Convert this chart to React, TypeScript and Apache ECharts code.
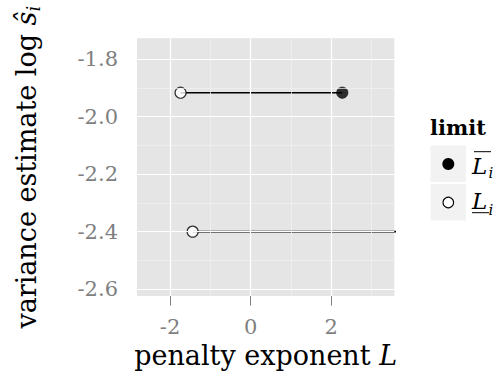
import React, { useEffect, useRef } from "react";
import * as echarts from "echarts";

// Variance estimate against the penalty exponent interval [lower, upper]
const logS = [-1.917, -2.4];
const lowerL = [-1.74, -1.44];
const upperL = [2.276, 6.0]; // second interval is unbounded above; runs off the right edge

// Axis ticks and grid
const xTicks = [-2, 0, 2];
const xMinor = [-1, 1, 3];
const yTicks = [-2.6, -2.4, -2.2, -2.0, -1.8];
const yMinor = [-2.5, -2.3, -2.1, -1.9];
const xRange = [-2.822, 3.568];
const yRange = [-2.624, -1.728];

const legendTitle = "limit";

const SERIF = '"DejaVu Serif", "Liberation Serif", serif';
const GREY = "#7f7f7f";

export default function App() {
  const ref = useRef<HTMLDivElement>(null);

  useEffect(() => {
    if (!ref.current) return;
    const chart = echarts.init(ref.current, undefined, { renderer: "svg" });

    const segments = logS.map((y, i) => ({
      type: "line",
      name: "interval" + i,
      data: [
        [lowerL[i], y],
        [upperL[i], y],
      ],
      symbol: "none",
      clip: true,
      lineStyle: { color: "#000", width: 1.6 },
      z: 3,
      silent: true,
    }));

    const option: any = {
      animation: false,
      backgroundColor: "#ffffff",
      grid: {
        left: 137,
        right: 105.7,
        top: 38.3,
        bottom: 74.7,
        show: true,
        backgroundColor: "#e5e5e5",
        borderWidth: 0,
      },
      xAxis: {
        type: "value",
        min: xRange[0],
        max: xRange[1],
        name: "penalty exponent {it|L}",
        nameLocation: "middle",
        nameGap: 44,
        nameTextStyle: {
          fontFamily: SERIF,
          fontSize: 27,
          color: "#000",
          rich: {
            it: { fontFamily: SERIF, fontSize: 27, fontStyle: "italic", color: "#000" },
          },
        },
        axisLine: { show: false },
        axisTick: {
          show: true,
          length: 9.5,
          customValues: xTicks,
          lineStyle: { color: GREY, width: 1 },
        },
        axisLabel: {
          customValues: xTicks,
          margin: 20,
          fontFamily: SERIF,
          fontSize: 21,
          color: GREY,
          formatter: (v: number) => String(v),
        },
        splitLine: { show: false },
      },
      yAxis: {
        type: "value",
        min: yRange[0],
        max: yRange[1],
        name: "variance estimate log {it|ŝ}{sub|i}",
        nameLocation: "middle",
        nameRotate: 90,
        nameGap: 95,
        nameTextStyle: {
          fontFamily: SERIF,
          fontSize: 27,
          color: "#000",
          rich: {
            it: { fontFamily: SERIF, fontSize: 27, fontStyle: "italic", color: "#000" },
            sub: {
              fontFamily: SERIF,
              fontSize: 18,
              fontStyle: "italic",
              color: "#000",
              padding: [14, 0, 0, 0],
            },
          },
        },
        axisLine: { show: false },
        axisTick: {
          show: true,
          length: 10,
          customValues: yTicks,
          lineStyle: { color: GREY, width: 1 },
        },
        axisLabel: {
          customValues: yTicks,
          margin: 19,
          fontFamily: SERIF,
          fontSize: 21,
          color: GREY,
          formatter: (v: number) => v.toFixed(1),
        },
        splitLine: { show: false },
      },
      series: [
        {
          type: "line",
          name: "minor grid",
          data: [],
          z: 1,
          silent: true,
          markLine: {
            silent: true,
            symbol: "none",
            label: { show: false },
            lineStyle: { color: "#f2f2f2", width: 0.7, type: "solid" },
            data: [
              ...xMinor.map((v) => ({ xAxis: v })),
              ...yMinor.map((v) => ({ yAxis: v })),
            ],
          },
        },
        {
          type: "line",
          name: "major grid",
          data: [],
          z: 1.5,
          silent: true,
          markLine: {
            silent: true,
            symbol: "none",
            label: { show: false },
            lineStyle: { color: "#ffffff", width: 1.2, type: "solid" },
            data: [
              ...xTicks.map((v) => ({ xAxis: v })),
              ...yTicks.map((v) => ({ yAxis: v })),
            ],
          },
        },
        ...segments,
        {
          type: "scatter",
          name: "upper",
          data: upperL.map((x, i) => [x, logS[i]]),
          symbol: "circle",
          symbolSize: 11.5,
          clip: true,
          itemStyle: { color: "#000", borderColor: "#000", borderWidth: 0.5 },
          z: 4,
          silent: true,
        },
        {
          type: "scatter",
          name: "lower",
          data: lowerL.map((x, i) => [x, logS[i]]),
          symbol: "circle",
          symbolSize: 11,
          clip: true,
          itemStyle: { color: "#fff", borderColor: "#000", borderWidth: 1.2 },
          z: 4,
          silent: true,
        },
      ],
      graphic: [
        {
          type: "text",
          x: 430,
          y: 127.5,
          style: {
            text: legendTitle,
            font: `bold 21px ${SERIF}`,
            fill: "#000",
            align: "left",
            verticalAlign: "middle",
          },
        },
        {
          type: "rect",
          shape: { x: 430, y: 145, width: 36.5, height: 37.5 },
          style: { fill: "#f2f2f2", stroke: "#ffffff", lineWidth: 1 },
        },
        {
          type: "rect",
          shape: { x: 430, y: 183.5, width: 36.5, height: 37.5 },
          style: { fill: "#f2f2f2", stroke: "#ffffff", lineWidth: 1 },
        },
        {
          type: "circle",
          shape: { cx: 448.3, cy: 164, r: 6 },
          style: { fill: "#000" },
        },
        {
          type: "circle",
          shape: { cx: 448.3, cy: 202.5, r: 5.3 },
          style: { fill: "#fff", stroke: "#000", lineWidth: 1.1 },
        },
        {
          type: "text",
          x: 472,
          y: 165.5,
          style: {
            text: "L",
            font: `italic 23px ${SERIF}`,
            fill: "#000",
            align: "left",
            verticalAlign: "middle",
          },
        },
        {
          type: "text",
          x: 488.5,
          y: 172.5,
          style: {
            text: "i",
            font: `italic 15px ${SERIF}`,
            fill: "#000",
            align: "left",
            verticalAlign: "middle",
          },
        },
        {
          type: "line",
          shape: { x1: 474, y1: 151.7, x2: 491, y2: 151.7 },
          style: { stroke: "#000", lineWidth: 1 },
        },
        {
          type: "text",
          x: 472,
          y: 200.5,
          style: {
            text: "L",
            font: `italic 23px ${SERIF}`,
            fill: "#000",
            align: "left",
            verticalAlign: "middle",
          },
        },
        {
          type: "text",
          x: 488.5,
          y: 209.5,
          style: {
            text: "i",
            font: `italic 15px ${SERIF}`,
            fill: "#000",
            align: "left",
            verticalAlign: "middle",
          },
        },
        {
          type: "line",
          shape: { x1: 472, y1: 212.7, x2: 489, y2: 212.7 },
          style: { stroke: "#000", lineWidth: 1 },
        },
      ],
    };

    chart.setOption(option);
    return () => chart.dispose();
  }, []);

  return (
    <div
      ref={ref}
      style={{ position: "absolute", left: 0, top: 0, width: 500, height: 374, background: "#fff" }}
    />
  );
}
